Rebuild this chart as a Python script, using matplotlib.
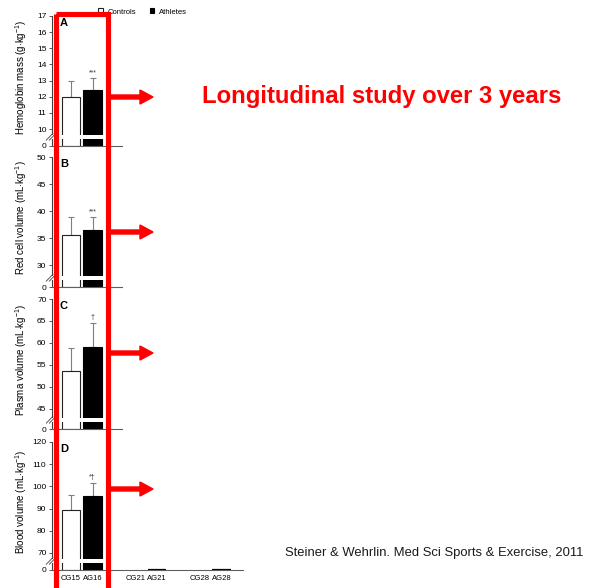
import matplotlib
matplotlib.use("Agg")
import matplotlib.pyplot as plt
from matplotlib.patches import Rectangle, FancyArrow
from matplotlib.lines import Line2D
from matplotlib.transforms import Affine2D

plt.rcParams['font.family'] = ['Liberation Sans', 'DejaVu Sans']
plt.rcParams['mathtext.fontset'] = 'custom'
plt.rcParams['mathtext.rm'] = 'Liberation Sans'
plt.rcParams['mathtext.it'] = 'Liberation Sans:italic'

W, H, DPI = 589, 588, 100

# ---- data -------------------------------------------------------------
groups = ["CG15", "AG16", "CG21", "AG21", "CG28", "AG28"]
xpos = [0, 1, 3, 4, 6, 7]

panel_letters = ["A", "B", "C", "D"]
ylabels = ["Hemoglobin mass (g$\\cdot$kg$^{-1}$)",
           "Red cell volume (mL$\\cdot$kg$^{-1}$)",
           "Plasma volume (mL$\\cdot$kg$^{-1}$)",
           "Blood volume (mL$\\cdot$kg$^{-1}$)"]

controls_mean = [12.0, 35.6, 53.7, 89.4]
controls_sd = [0.95, 3.3, 5.2, 6.8]
athletes_mean = [12.4, 36.5, 59.2, 95.5]
athletes_sd = [0.75, 2.4, 5.3, 6.2]
significance = ["***", "***", "\u2020", "*\u2020"]

# later follow-up groups (blood volume panel only), no values shown
later_controls = [0.0, 0.0]
later_athletes = [0.0, 0.0]

# y-axis layout: broken axis, lowest visible point labelled 0
y_bottom = [8.95, 25.95, 40.45, 62.3]
y_top = [17, 50, 70, 120]
y_ticks = [list(range(10, 18)), list(range(30, 51, 5)),
           list(range(45, 71, 5)), list(range(70, 121, 10))]

# ---- figure -----------------------------------------------------------
fig = plt.figure(figsize=(W / DPI, H / DPI), dpi=DPI)
pix = Affine2D().scale(1 / W, -1 / H).translate(0, 1) + fig.transFigure

ax_left, ax_right = 52, 243
tops = [16, 157, 299, 442]
bottoms = [146, 287, 429, 570]
unit = 21.5
x0_px = 71
xlim = ((ax_left - x0_px) / unit, (ax_right - x0_px) / unit)
short_right = (122 - x0_px) / unit

axis_col = "#404040"
err_col = "#7f7f7f"
bw = 0.85

for i in range(4):
    ax = fig.add_axes([ax_left / W, 1 - bottoms[i] / H,
                       (ax_right - ax_left) / W, (bottoms[i] - tops[i]) / H])
    base = y_bottom[i]
    ax.set_xlim(*xlim)
    ax.set_ylim(base, y_top[i])

    bc = ax.bar(xpos[0], controls_mean[i] - base, bottom=base, width=bw,
                color="white", edgecolor="#222222", linewidth=0.8,
                label="Controls", zorder=2)
    ba = ax.bar(xpos[1], athletes_mean[i] - base, bottom=base, width=bw,
                color="black", edgecolor="black", linewidth=0.8,
                label="Athletes", zorder=2)
    ax.errorbar([xpos[0]], [controls_mean[i]], yerr=[[0], [controls_sd[i]]],
                fmt="none", ecolor=err_col, elinewidth=0.8, capsize=2.5,
                capthick=0.8, zorder=1)
    ax.errorbar([xpos[1]], [athletes_mean[i]], yerr=[[0], [athletes_sd[i]]],
                fmt="none", ecolor=err_col, elinewidth=0.8, capsize=2.5,
                capthick=0.8, zorder=1)
    ax.annotate(significance[i], (xpos[1], athletes_mean[i] + athletes_sd[i]),
                xytext=(0, 1.5), textcoords="offset points", ha="center",
                va="bottom", fontsize=5, color="#333333")

    if i == 3:
        ax.bar([xpos[2], xpos[4]], later_controls, bottom=base, width=bw,
               color="white", edgecolor="#bbbbbb", linewidth=0.6, zorder=2)
        ax.bar([xpos[3], xpos[5]], later_athletes, bottom=base, width=bw,
               color="black", edgecolor="black", linewidth=1.6, zorder=2)
        ax.set_xticks(xpos)
        ax.set_xticklabels(groups, fontsize=5.5)
        ax.tick_params(axis="x", length=0, pad=3.5)
    else:
        ax.set_xticks([])
        ax.spines["bottom"].set_bounds(xlim[0], short_right)

    ax.set_yticks([base] + y_ticks[i])
    ax.set_yticklabels(["0"] + [str(t) for t in y_ticks[i]], fontsize=6)
    ax.tick_params(axis="y", length=2.5, width=0.6, color=axis_col, pad=1.5)

    for s in ("top", "right"):
        ax.spines[s].set_visible(False)
    for s in ("left", "bottom"):
        ax.spines[s].set_color(axis_col if s == "left" else "#606060")
        ax.spines[s].set_linewidth(0.8)

    # axis break: white band through bars and spine, plus slashes
    ax.add_patch(Rectangle((-0.01, 0.055), 1.02, 0.03, transform=ax.transAxes,
                           facecolor="white", edgecolor="none", zorder=5,
                           clip_on=False))
    for dx in (0.0, 0.016):
        ax.add_line(Line2D([-0.03 + dx, 0.005 + dx], [0.045, 0.098],
                           transform=ax.transAxes, color=axis_col, lw=0.6,
                           clip_on=False, zorder=6))

    ax.set_ylabel(ylabels[i], fontsize=7)
    ax.yaxis.set_label_coords(-0.118, 0.53)
    ax.text((60 - ax_left) / (ax_right - ax_left), 1 - 2 / (bottoms[i] - tops[i]),
            panel_letters[i], transform=ax.transAxes, fontsize=8,
            fontweight="bold", ha="left", va="top")

    if i == 0:
        ax.legend(handles=[bc, ba], loc="center left",
                  bbox_to_anchor=(98 / W, 1 - 12 / H),
                  bbox_transform=fig.transFigure, ncol=2, frameon=False,
                  fontsize=5.5, handlelength=0.6, handleheight=0.6,
                  handletextpad=0.6, columnspacing=1.8, borderpad=0,
                  borderaxespad=0)

# ---- annotation overlay ----------------------------------------------
red = "#ff0000"
fig.add_artist(Rectangle((55.5, 14), 52, 590, transform=pix, fill=False,
                         edgecolor=red, linewidth=3.7, zorder=20,
                         clip_on=False))
for ya in (97, 232, 353, 489):
    fig.add_artist(FancyArrow(110, ya, 43, 0, width=4, head_width=14,
                              head_length=13, length_includes_head=True,
                              transform=pix, color=red, zorder=20))

fig.text(202, 97, "Longitudinal study over 3 years", transform=pix,
         color=red, fontsize=17.2, fontweight="bold", ha="left", va="center")
fig.text(583, 553, "Steiner & Wehrlin. Med Sci Sports & Exercise, 2011",
         transform=pix, color="#1a1a1a", fontsize=9.4, ha="right", va="center")

fig.savefig("out.png", dpi=DPI)
